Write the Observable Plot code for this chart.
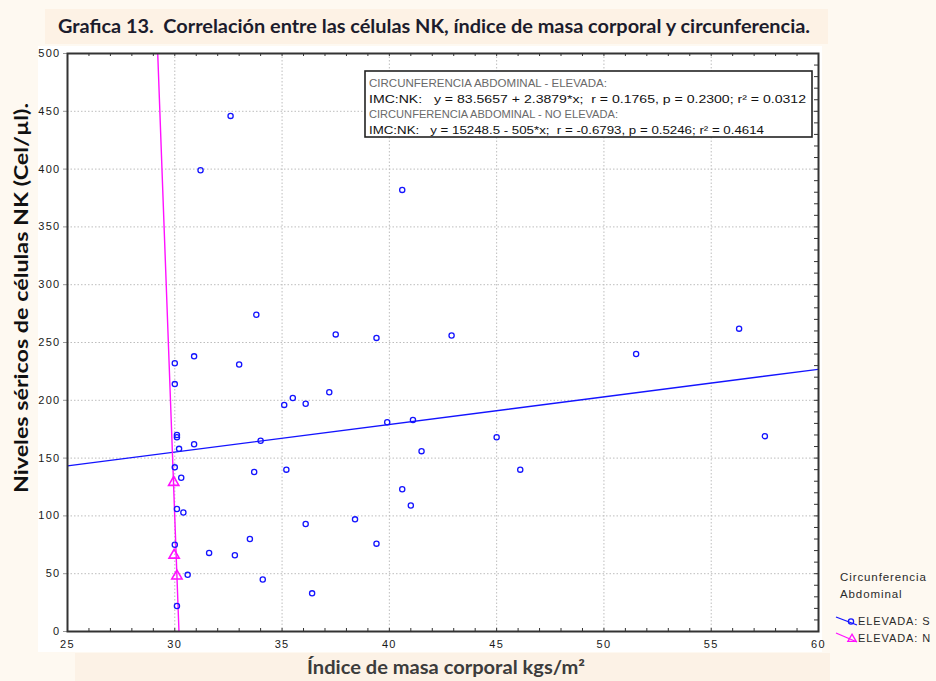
<!DOCTYPE html>
<html><head><meta charset="utf-8">
<script src="https://cdn.jsdelivr.net/npm/d3@7"></script>
<script src="https://cdn.jsdelivr.net/npm/@observablehq/plot@0.6"></script>
<style>
html,body{margin:0;padding:0;background:#fef9f1;}
#wrap{position:relative;width:936px;height:681px;overflow:hidden;background:#fef9f1;}
#panel{position:absolute;left:38px;top:46px;width:784px;height:606px;background:#ffffff;}
#chart{position:absolute;left:0;top:0;}
#overlay{position:absolute;left:0;top:0;}
#overlay text{white-space:pre;}
</style></head><body>
<div id="wrap"><div id="panel"></div><div id="chart"></div><svg id="overlay" width="936" height="681"></svg></div>
<script>
// ---- texts ----
const titleText = "Grafica 13.  Correlación entre las células NK, índice de masa corporal y circunferencia.";
const xLabel = "Índice de masa corporal kgs/m²";
const yLabel = "Niveles séricos de células NK (Cel/µl).";
const statsLines = [
  "CIRCUNFERENCIA ABDOMINAL - ELEVADA:",
  "IMC:NK:   y = 83.5657 + 2.3879*x;  r = 0.1765, p = 0.2300; r² = 0.0312",
  "CIRCUNFERENCIA ABDOMINAL - NO ELEVADA:",
  "IMC:NK:   y = 15248.5 - 505*x;  r = -0.6793, p = 0.5246; r² = 0.4614"
];
const legendTitle = ["Circunferencia", "Abdominal"];
const legendItems = ["ELEVADA: S", "ELEVADA: N"];

// ---- ticks ----
const xTicks = [25, 30, 35, 40, 45, 50, 55, 60];
const yTicks = [0, 50, 100, 150, 200, 250, 300, 350, 400, 450, 500];

// ---- data: ELEVADA S (blue circles) ----
const imcS = [32.6, 31.2, 40.6, 33.8, 37.5, 39.4, 42.9, 56.3, 51.5, 30.0, 30.9, 33.0, 30.0, 37.2, 35.5, 35.1, 36.1, 41.1, 39.9, 34.0, 30.9, 30.1, 30.1, 30.2, 41.5, 45.0, 57.5, 30.0, 46.1, 33.7, 35.2, 30.3, 40.6, 41.0, 30.1, 30.4, 36.1, 38.4, 33.5, 39.4, 30.0, 31.6, 32.8, 30.6, 34.1, 36.4, 30.1];
const nkS  = [446, 399, 382, 274, 257, 254, 256, 262, 240, 232, 238, 231, 214, 207, 202, 196, 197, 183, 181, 165, 162, 170, 168, 158, 156, 168, 169, 142, 140, 138, 140, 133, 123, 109, 106, 103, 93, 97, 80, 76, 75, 68, 66, 49, 45, 33, 22];
// ---- data: ELEVADA N (magenta triangles) ----
const imcN = [29.95, 29.97, 30.1];
const nkN  = [129, 66, 48];
// ---- regression coefficients (from the stats box) ----
const fitGroups = ["S", "N"];
const fitIntercept = [83.5657, 15248.5];
const fitSlope = [2.3879, -505];
const fitXRange = [[25, 60], [29, 30.4]];

const S = imcS.map((x, i) => ({x, y: nkS[i]}));
const N = imcN.map((x, i) => ({x, y: nkN[i]}));
const fitRows = fitGroups.map((g, i) => fitXRange[i].map(x => ({g, x, y: fitIntercept[i] + fitSlope[i] * x})));

const W = 936, H = 655, mL = 67, mR = 118, mT = 53, mB = 24;
const frameW = W - mL - mR, frameH = H - mT - mB;
const minorX = d3.range(26, 60, 1);
const minorY = d3.range(10, 500, 10);
const blue = "#1414ff", magenta = "#ff10ff";

const plot = Plot.plot({
  width: W, height: H,
  marginLeft: mL, marginRight: mR, marginTop: mT, marginBottom: mB,
  style: {background: "transparent", fontFamily: "'Liberation Sans', Arial, sans-serif", fontSize: "11px", letterSpacing: "1.3px", color: "#1a1a1a"},
  x: {domain: [25, 60]},
  y: {domain: [0, 500]},
  marks: [
    Plot.frame({fill: "white", stroke: "none"}),
    Plot.ruleX(xTicks.slice(1, -1), {stroke: "#bdbdbd", strokeDasharray: "1.5,2"}),
    Plot.ruleY(yTicks.slice(1, -1), {stroke: "#bdbdbd", strokeDasharray: "1.5,2"}),
    Plot.ruleX(minorX, {insetTop: frameH - 3, stroke: "#333"}),
    Plot.ruleX(minorX, {insetBottom: frameH - 3, stroke: "#333"}),
    Plot.ruleY(minorY, {insetLeft: frameW - 4, stroke: "#333"}),
    Plot.line(fitRows[0], {x: "x", y: "y", stroke: blue, strokeWidth: 1.4, clip: true}),
    Plot.line(fitRows[1], {x: "x", y: "y", stroke: magenta, strokeWidth: 1.4, clip: true}),
    Plot.dot(S, {x: "x", y: "y", r: 2.6, stroke: blue, strokeWidth: 1.3}),
    Plot.dot(N, {x: "x", y: "y", symbol: "triangle", r: 3.8, stroke: magenta, strokeWidth: 1.6}),
    Plot.axisY(yTicks, {tickSize: 4, tickPadding: 3, stroke: "#999", tickFormat: d => String(d), label: null}),
    Plot.axisX(xTicks, {tickSize: 0, tickPadding: 9, tickFormat: d => String(d), label: null}),
    Plot.frame({stroke: "#333", strokeWidth: 2})
  ]
});
document.getElementById("chart").appendChild(plot);

// ---- overlay: title, axis labels, stats box, legend ----
const svg = d3.select("#overlay");
svg.append("rect").attr("x", 45).attr("y", 9).attr("width", 783).attr("height", 35).attr("fill", "#fdf2e5");
svg.append("text").attr("x", 58).attr("y", 33).text(titleText)
  .attr("font-family", "Lato, 'Open Sans', sans-serif").attr("font-weight", "bold").attr("font-size", 19)
  .attr("fill", "#1c1c2c").attr("textLength", 752).attr("lengthAdjust", "spacingAndGlyphs");

svg.append("text").attr("transform", "translate(28,493) rotate(-90)").text(yLabel)
  .attr("font-family", "Lato, 'Open Sans', sans-serif").attr("font-weight", "bold").attr("font-size", 18)
  .attr("fill", "#111").attr("textLength", 390).attr("lengthAdjust", "spacingAndGlyphs");

svg.append("rect").attr("x", 75).attr("y", 653).attr("width", 755).attr("height", 28).attr("fill", "#fcf2e6");
svg.append("text").attr("x", 307).attr("y", 674).text(xLabel)
  .attr("font-family", "Lato, 'Open Sans', sans-serif").attr("font-weight", "bold").attr("font-size", 18)
  .attr("fill", "#3c3c3c").attr("textLength", 278).attr("lengthAdjust", "spacingAndGlyphs");

// stats box
svg.append("rect").attr("x", 365).attr("y", 71).attr("width", 447).attr("height", 66)
  .attr("fill", "white").attr("stroke", "#222").attr("stroke-width", 1.6);
const statsY = [87, 103, 118, 134];
const statsLen = [238, 437, 249, 395];
const statsFill = ["#6a6a6a", "#111", "#6a6a6a", "#111"];
statsLines.forEach((t, i) => {
  svg.append("text").attr("x", 369).attr("y", statsY[i]).text(t)
    .attr("font-family", "'Liberation Sans', Arial, sans-serif").attr("font-size", i % 2 ? 11.5 : 10.5)
    .attr("fill", statsFill[i]).attr("textLength", statsLen[i]).attr("lengthAdjust", "spacingAndGlyphs");
});

// legend
const lf = "'Liberation Sans', Arial, sans-serif";
svg.append("text").attr("x", 840).attr("y", 581).text(legendTitle[0]).attr("font-family", lf).attr("font-size", 11.5).attr("fill", "#2a2a2a").attr("letter-spacing", 0.9);
svg.append("text").attr("x", 840).attr("y", 598).text(legendTitle[1]).attr("font-family", lf).attr("font-size", 11.5).attr("fill", "#2a2a2a").attr("letter-spacing", 0.9);
svg.append("line").attr("x1", 836).attr("y1", 617).attr("x2", 857).attr("y2", 625).attr("stroke", blue).attr("stroke-width", 1.3);
svg.append("circle").attr("cx", 851).attr("cy", 621.5).attr("r", 2.6).attr("fill", "none").attr("stroke", blue).attr("stroke-width", 1.3);
svg.append("line").attr("x1", 836).attr("y1", 633).attr("x2", 857).attr("y2", 642).attr("stroke", magenta).attr("stroke-width", 1.3);
svg.append("path").attr("d", d3.symbol(d3.symbolTriangle, 30)()).attr("transform", "translate(852,639)")
  .attr("fill", "none").attr("stroke", magenta).attr("stroke-width", 1.3);
svg.append("text").attr("x", 858).attr("y", 625).text(legendItems[0]).attr("font-family", lf).attr("font-size", 11).attr("fill", "#2a2a2a").attr("letter-spacing", 0.9);
svg.append("text").attr("x", 858).attr("y", 642).text(legendItems[1]).attr("font-family", lf).attr("font-size", 11).attr("fill", "#2a2a2a").attr("letter-spacing", 0.9);
</script>
</body></html>
